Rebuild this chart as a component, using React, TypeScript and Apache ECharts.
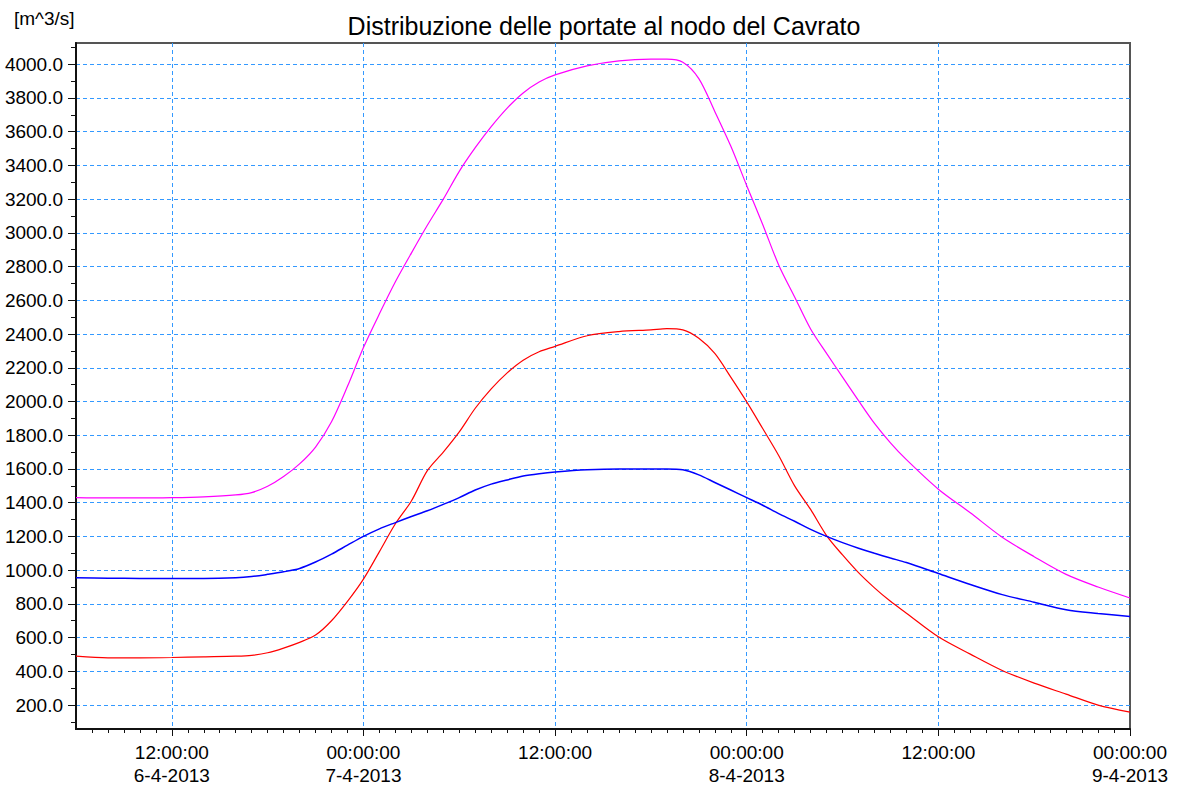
import React, { useEffect, useRef } from "react";
import * as echarts from "echarts";

// hours since 6-4-2013 00:00
const hours = [6, 8, 10, 12, 14, 16, 17, 18, 19, 20, 21, 22, 23, 24, 25, 26, 27, 28, 29, 30, 31, 32, 33, 34, 35, 36, 38, 40, 42, 43, 44, 45, 46, 47, 48, 49, 50, 51, 52, 53, 54, 55, 56, 57, 58, 60, 62, 64, 66, 68, 70, 72];

const magentaSeries = [1430, 1428, 1428, 1430, 1435, 1446, 1460, 1497, 1555, 1630, 1730, 1880, 2090, 2320, 2520, 2710, 2880, 3045, 3200, 3365, 3505, 3630, 3740, 3830, 3895, 3937, 3990, 4020, 4030, 4030, 4012, 3915, 3720, 3515, 3280, 3050, 2810, 2620, 2430, 2285, 2145, 2005, 1870, 1755, 1655, 1480, 1340, 1195, 1080, 975, 900, 835];

const redSeries = [490, 480, 480, 482, 486, 490, 495, 510, 538, 572, 615, 700, 815, 947, 1110, 1275, 1410, 1590, 1700, 1820, 1960, 2075, 2170, 2245, 2295, 2327, 2390, 2415, 2425, 2432, 2425, 2375, 2285, 2145, 1998, 1840, 1680, 1500, 1360, 1205, 1090, 985, 895, 815, 745, 605, 502, 405, 330, 265, 200, 158];

const blueSeries = [955, 952, 951, 951, 951, 955, 962, 975, 990, 1010, 1048, 1095, 1148, 1200, 1245, 1282, 1318, 1352, 1390, 1430, 1475, 1510, 1535, 1558, 1572, 1582, 1595, 1600, 1600, 1600, 1595, 1565, 1520, 1475, 1430, 1385, 1335, 1290, 1242, 1200, 1163, 1130, 1100, 1072, 1045, 980, 915, 855, 810, 765, 743, 725];

const yMajorTicks = [200, 400, 600, 800, 1000, 1200, 1400, 1600, 1800, 2000, 2200, 2400, 2600, 2800, 3000, 3200, 3400, 3600, 3800, 4000];
const yMinorTicks = [100, 300, 500, 700, 900, 1100, 1300, 1500, 1700, 1900, 2100, 2300, 2500, 2700, 2900, 3100, 3300, 3500, 3700, 3900, 4100];
const xMajorTicks = [12, 24, 36, 48, 60, 72];
const xGridLines = [12, 24, 36, 48, 60];
const xMinorTicks = [7, 8, 9, 10, 11, 13, 14, 15, 16, 17, 18, 19, 20, 21, 22, 23, 25, 26, 27, 28, 29, 30, 31, 32, 33, 34, 35, 37, 38, 39, 40, 41, 42, 43, 44, 45, 46, 47, 49, 50, 51, 52, 53, 54, 55, 56, 57, 58, 59, 61, 62, 63, 64, 65, 66, 67, 68, 69, 70, 71];

const titleText = "Distribuzione delle portate al nodo del Cavrato";
const unitText = "[m^3/s]";

const FONT = "Arial, 'Liberation Sans', sans-serif";

function xLabel(h: number): string {
  const r = Math.round(h);
  const time = r % 24 === 0 ? "00:00:00" : "12:00:00";
  const day = 6 + Math.floor(r / 24);
  const showDate = r % 24 === 0 || r === xMajorTicks[0];
  return showDate ? `${time}\n${day}-4-2013` : time;
}

export default function App() {
  const ref = useRef<HTMLDivElement>(null);
  useEffect(() => {
    if (!ref.current) return;
    const chart = echarts.init(ref.current, null, { renderer: "svg" });
    const pairs = (vals: number[]) => hours.map((h, i) => [h, vals[i]]);
    const yMin = 58;
    const yMax = 4126;
    const lineCommon = {
      type: "line",
      smooth: 0.3,
      showSymbol: false,
      xAxisIndex: 0,
      yAxisIndex: 0,
    };
    chart.setOption({
      animation: false,
      backgroundColor: "#ffffff",
      title: {
        text: titleText,
        left: 599,
        top: 8,
        textAlign: "center",
        textStyle: { fontFamily: FONT, fontSize: 25, fontWeight: "normal", color: "#000" },
      },
      graphic: [
        {
          type: "text",
          left: 14,
          top: 9,
          style: { text: unitText, font: `19px ${FONT}`, fill: "#000" },
        },
      ],
      grid: {
        left: 76,
        right: 48,
        top: 43,
        bottom: 57,
        show: true,
        borderColor: "#555",
        borderWidth: 2,
        backgroundColor: "transparent",
      },
      xAxis: [
        {
          type: "value",
          min: 6,
          max: 72,
          axisLine: { show: true, onZero: false, lineStyle: { color: "#111", width: 2 } },
          axisTick: { show: true, customValues: xMajorTicks, length: 7, lineStyle: { color: "#111", width: 1 } },
          axisLabel: {
            customValues: xMajorTicks,
            formatter: (v: number) => xLabel(v),
            fontFamily: FONT,
            fontSize: 19,
            lineHeight: 23,
            color: "#000",
            margin: 12,
            showMinLabel: true,
            showMaxLabel: true,
          },
          splitLine: { show: false },
        },
        {
          type: "value",
          min: 6,
          max: 72,
          position: "bottom",
          axisLine: { show: false },
          axisTick: { show: true, customValues: xMinorTicks, length: 4, lineStyle: { color: "#111", width: 1 } },
          axisLabel: { show: false },
          splitLine: { show: false },
        },
        {
          type: "value",
          min: 6,
          max: 72,
          position: "bottom",
          axisLine: { show: false },
          axisTick: { show: false, customValues: xGridLines },
          axisLabel: { show: false },
          splitLine: { show: true, lineStyle: { color: "#3399ff", type: [4, 3], width: 1 } },
        },
      ],
      yAxis: [
        {
          type: "value",
          min: yMin,
          max: yMax,
          axisLine: { show: true, onZero: false, lineStyle: { color: "#111", width: 2 } },
          axisTick: { show: true, customValues: yMajorTicks, length: 8, lineStyle: { color: "#111", width: 1 } },
          axisLabel: {
            customValues: yMajorTicks,
            formatter: (v: number) => v.toFixed(1),
            fontFamily: FONT,
            fontSize: 19,
            color: "#000",
            margin: 13,
          },
          splitLine: { show: true, lineStyle: { color: "#3399ff", type: [4, 3], width: 1 } },
        },
        {
          type: "value",
          min: yMin,
          max: yMax,
          position: "left",
          axisLine: { show: false },
          axisTick: { show: true, customValues: yMinorTicks, length: 5, lineStyle: { color: "#111", width: 1 } },
          axisLabel: { show: false },
          splitLine: { show: false },
        },
      ],
      series: [
        { ...lineCommon, name: "magenta", data: pairs(magentaSeries), lineStyle: { color: "#ff00ff", width: 1.2 } },
        { ...lineCommon, name: "red", data: pairs(redSeries), lineStyle: { color: "#ff0000", width: 1.2 } },
        { ...lineCommon, name: "blue", data: pairs(blueSeries), lineStyle: { color: "#0000ff", width: 1.5 } },
      ],
    });
    return () => chart.dispose();
  }, []);
  return (
    <div
      ref={ref}
      style={{ position: "fixed", left: 0, top: 0, width: 1178, height: 787, background: "#fff" }}
    />
  );
}
